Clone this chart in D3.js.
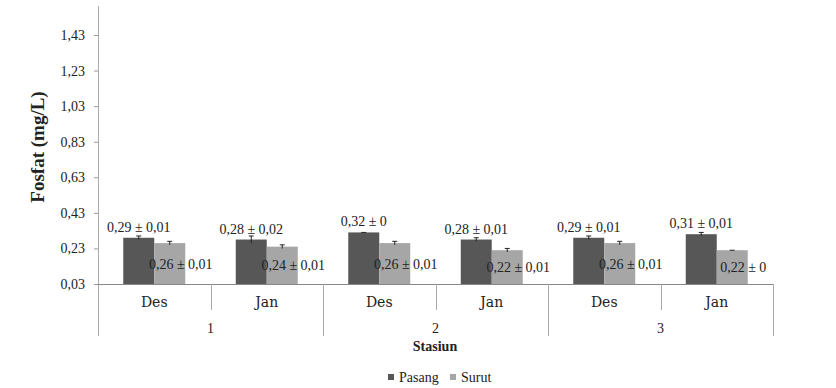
<!DOCTYPE html>
<html><head><meta charset="utf-8">
<script src="https://cdn.jsdelivr.net/npm/d3@7/dist/d3.min.js"></script>
<style>body{margin:0;background:#fff}svg{display:block}text{fill:#222}</style>
</head><body><svg id="c" width="836" height="388"></svg>
<script>
const stations = ["1","2","3"];
const months = ["Des","Jan"];
const pasang = [0.29,0.28,0.32,0.28,0.29,0.31];
const pasangErr = [0.01,0.02,0,0.01,0.01,0.01];
const surut = [0.26,0.24,0.26,0.22,0.26,0.22];
const surutErr = [0.01,0.01,0.01,0.01,0.01,0];
const yTicks = [0.03,0.23,0.43,0.63,0.83,1.03,1.23,1.43];
const seriesNames = ["Pasang","Surut"];
const colors = ["#575757","#a6a6a6"];

const F1 = "'Liberation Serif'";
const F2 = "'Times New Roman'";
const F3 = "'DejaVu Serif'";
const F4 = "serif";

const svg = d3.select("#c");
const L = 98, R = 773, T = 6, B = 284;
const fmt = v => String(v).replace(".", ",");
const y = d3.scaleLinear().domain([0.03, 1.43]).range([B, 35]);
const cats = [];
stations.forEach(s => months.forEach(m => cats.push(s + "|" + m)));
const x = d3.scaleBand().domain(cats).range([L, R]).paddingInner(0).paddingOuter(0);
const xs = d3.scaleBand().domain(seriesNames).range([0, x.bandwidth()]).paddingInner(0).paddingOuter(0.815);
const gx = d3.scaleBand().domain(stations).range([L, R]);

// y axis
const ya = svg.append("g").attr("transform", `translate(${L},0)`)
  .call(d3.axisLeft(y).tickValues(yTicks).tickFormat(fmt).tickSize(4).tickPadding(9));
ya.attr("font-family", null).attr("font-size", null);
ya.select(".domain").remove();
ya.selectAll("line").attr("stroke", "#999");
ya.selectAll("text").style("font-size", "14px").style("font-family", F1).attr("fill", "#333");
svg.append("line").attr("x1", L + .5).attr("x2", L + .5).attr("y1", T).attr("y2", 336).attr("stroke", "#aaa");

// x baseline & separators
svg.append("line").attr("x1", L).attr("x2", R).attr("y1", B + .5).attr("y2", B + .5).attr("stroke", "#888");
cats.forEach((c, i) => {
  if (i === 0) return;
  const xx = Math.round(x(c)) + .5;
  const isGroup = i % 2 === 0;
  svg.append("line").attr("x1", xx).attr("x2", xx).attr("y1", B).attr("y2", isGroup ? 336 : 310).attr("stroke", "#aaa");
});
svg.append("line").attr("x1", R + .5).attr("x2", R + .5).attr("y1", B).attr("y2", 336).attr("stroke", "#aaa");

// bars
const series = [pasang, surut];
const errs = [pasangErr, surutErr];
series.forEach((vals, si) => {
  const g = svg.append("g");
  g.selectAll("rect").data(vals).join("rect")
    .attr("x", (d, i) => x(cats[i]) + xs(seriesNames[si]))
    .attr("width", xs.bandwidth())
    .attr("y", d => y(d))
    .attr("height", d => B - y(d))
    .attr("fill", colors[si]);
  vals.forEach((d, i) => {
    const cx = x(cats[i]) + xs(seriesNames[si]) + xs.bandwidth() / 2;
    const e = errs[si][i];
    const y1 = y(d + e), y0 = y(Math.max(0.03, d - e));
    g.append("line").attr("x1", cx).attr("x2", cx).attr("y1", y1).attr("y2", y0).attr("stroke", "#222");
    g.append("line").attr("x1", cx - 2.5).attr("x2", cx + 2.5).attr("y1", y1).attr("y2", y1).attr("stroke", "#222");
    const lbl = fmt(d) + " \u00b1 " + fmt(e);
    if (si === 0) {
      g.append("text").attr("x", cx).attr("y", y(d) - 6).attr("text-anchor", "middle")
        .style("font-size", "14px").style("font-family", F2).text(lbl);
    } else {
      g.append("text").attr("x", cx + 11).attr("y", (y(d) + B) / 2 + 5).attr("text-anchor", "middle")
        .style("font-size", "14px").style("font-family", F2).text(lbl);
    }
  });
});

// category labels
cats.forEach((c, i) => {
  svg.append("text").attr("x", x(c) + x.bandwidth() / 2).attr("y", 307).attr("text-anchor", "middle")
    .style("font-size", "14px").style("font-family", F3).text(months[i % 2]);
});
stations.forEach(s => {
  svg.append("text").attr("x", gx(s) + gx.bandwidth() / 2).attr("y", 333).attr("text-anchor", "middle")
    .style("font-size", "14px").style("font-family", F4).text(s);
});

// axis titles
svg.append("text").attr("x", 435).attr("y", 351).attr("text-anchor", "middle")
  .style("font-size", "14px").style("font-weight", "bold").style("font-family", F1).text("Stasiun");
svg.append("text").attr("transform", "translate(44,147) rotate(-90)").attr("text-anchor", "middle")
  .style("font-size", "19px").style("font-weight", "bold").style("font-family", F1).text("Fosfat (mg/L)");

// legend
const legX = [388, 450];
seriesNames.forEach((n, i) => {
  svg.append("rect").attr("x", legX[i]).attr("y", 374).attr("width", 6).attr("height", 6).attr("fill", colors[i]);
  svg.append("text").attr("x", legX[i] + 11).attr("y", 382).style("font-size", "14px").style("font-family", F4).text(n);
});
</script></body></html>
